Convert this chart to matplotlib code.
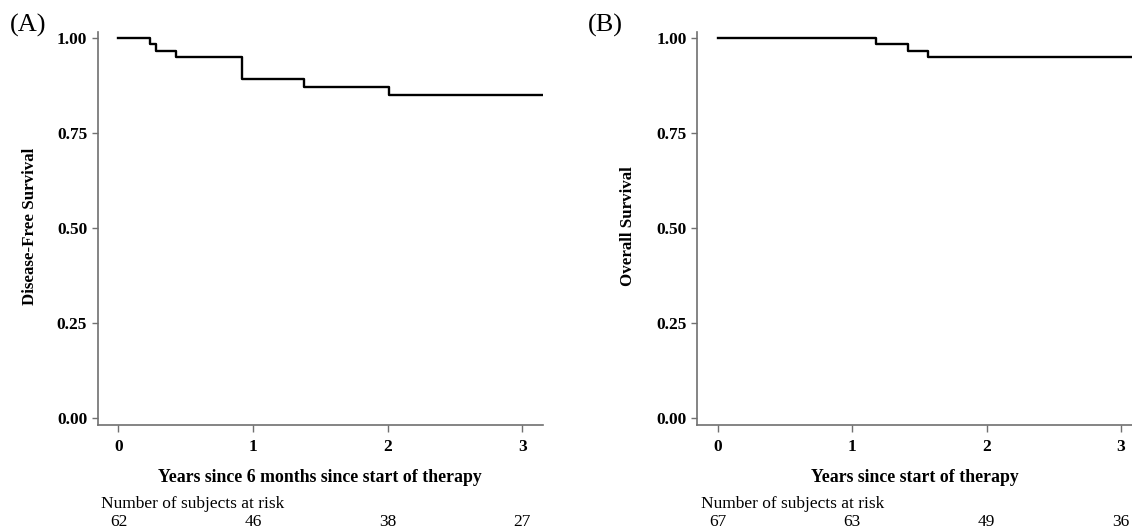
import matplotlib
matplotlib.use("Agg")
import matplotlib.pyplot as plt
import matplotlib.transforms as mtransforms

plt.rcParams['font.family'] = ['Liberation Serif', 'DejaVu Serif']

# ---- data ----
dfs_times = [0.0, 0.235, 0.28, 0.427, 0.92, 1.381, 2.008, 3.152]
dfs_surv = [1.0, 0.983, 0.965, 0.948, 0.891, 0.869, 0.848, 0.848]
os_times = [0.0, 1.178, 1.416, 1.566, 3.2]
os_surv = [1.0, 0.983, 0.965, 0.948, 0.948]
x_ticks = [0, 1, 2, 3]
y_ticks = [0.0, 0.25, 0.50, 0.75, 1.00]
y_tick_labels = ["0.00", "0.25", "0.50", "0.75", "1.00"]
risk_A = [62, 46, 38, 27]
risk_B = [67, 63, 49, 36]
xlabel_A = "Years since 6 months since start of therapy"
xlabel_B = "Years since start of therapy"
ylabel_A = "Disease-Free Survival"
ylabel_B = "Overall Survival"

W, H = 1132, 528
fig = plt.figure(figsize=(W / 100, H / 100), dpi=100)

def fx(px):
    return px / W

def fy(py):
    return 1 - py / H

spine_col = '#707070'

def make_axes(left_px, right_px, xlim, times, surv, xlabel, ylabel, risk,
              panel, panel_x, ylab_x, risk_label_x):
    top_px, bot_px = 32.3, 424.9
    ax = fig.add_axes([fx(left_px), fy(bot_px), fx(right_px - left_px),
                       (bot_px - top_px) / H])
    ax.step(times, surv, where='post', color='black', lw=1.7)
    ax.set_xlim(*xlim)
    ax.set_ylim(-0.019, 1.014)
    ax.set_xticks(x_ticks)
    ax.set_yticks(y_ticks)
    ax.set_yticklabels(y_tick_labels)
    for s in ['top', 'right']:
        ax.spines[s].set_visible(False)
    for s in ['left', 'bottom']:
        ax.spines[s].set_color(spine_col)
        ax.spines[s].set_linewidth(1.2)
    ax.tick_params(axis='x', direction='out', length=5, width=1.0,
                   color=spine_col, pad=5, labelsize=12.5)
    ax.tick_params(axis='y', direction='out', length=4.5, width=1.0,
                   color=spine_col, pad=3, labelsize=12.5)
    for lab in ax.get_xticklabels() + ax.get_yticklabels():
        lab.set_fontweight('bold')
    # x label
    cx = (left_px + right_px) / 2
    fig.text(fx(cx), fy(477), xlabel, ha='center', va='center',
             fontsize=12.8, fontweight='bold')
    # y label
    fig.text(fx(ylab_x), fy(226), ylabel, ha='center', va='center',
             rotation=90, fontsize=12.2, fontweight='bold')
    # risk table
    fig.text(fx(risk_label_x), fy(504.5), "Number of subjects at risk",
             ha='left', va='center', fontsize=12.5)
    tr = mtransforms.blended_transform_factory(ax.transData, fig.transFigure)
    for t, n in zip(x_ticks, risk):
        ax.text(t, fy(522), str(n), transform=tr, ha='center', va='center',
                fontsize=12.5, clip_on=False)
    # panel label
    fig.text(fx(panel_x), fy(25), panel, ha='center', va='center', fontsize=19)
    return ax

axA = make_axes(97.6, 542.7, (-0.155, 3.152), dfs_times, dfs_surv,
                xlabel_A, ylabel_A, risk_A, "(A)", 28.5, 30, 101)
axB = make_axes(697.4, 1132, (-0.153, 3.082), os_times, os_surv,
                xlabel_B, ylabel_B, risk_B, "(B)", 605, 628, 701)

fig.savefig("out.png", dpi=100)
